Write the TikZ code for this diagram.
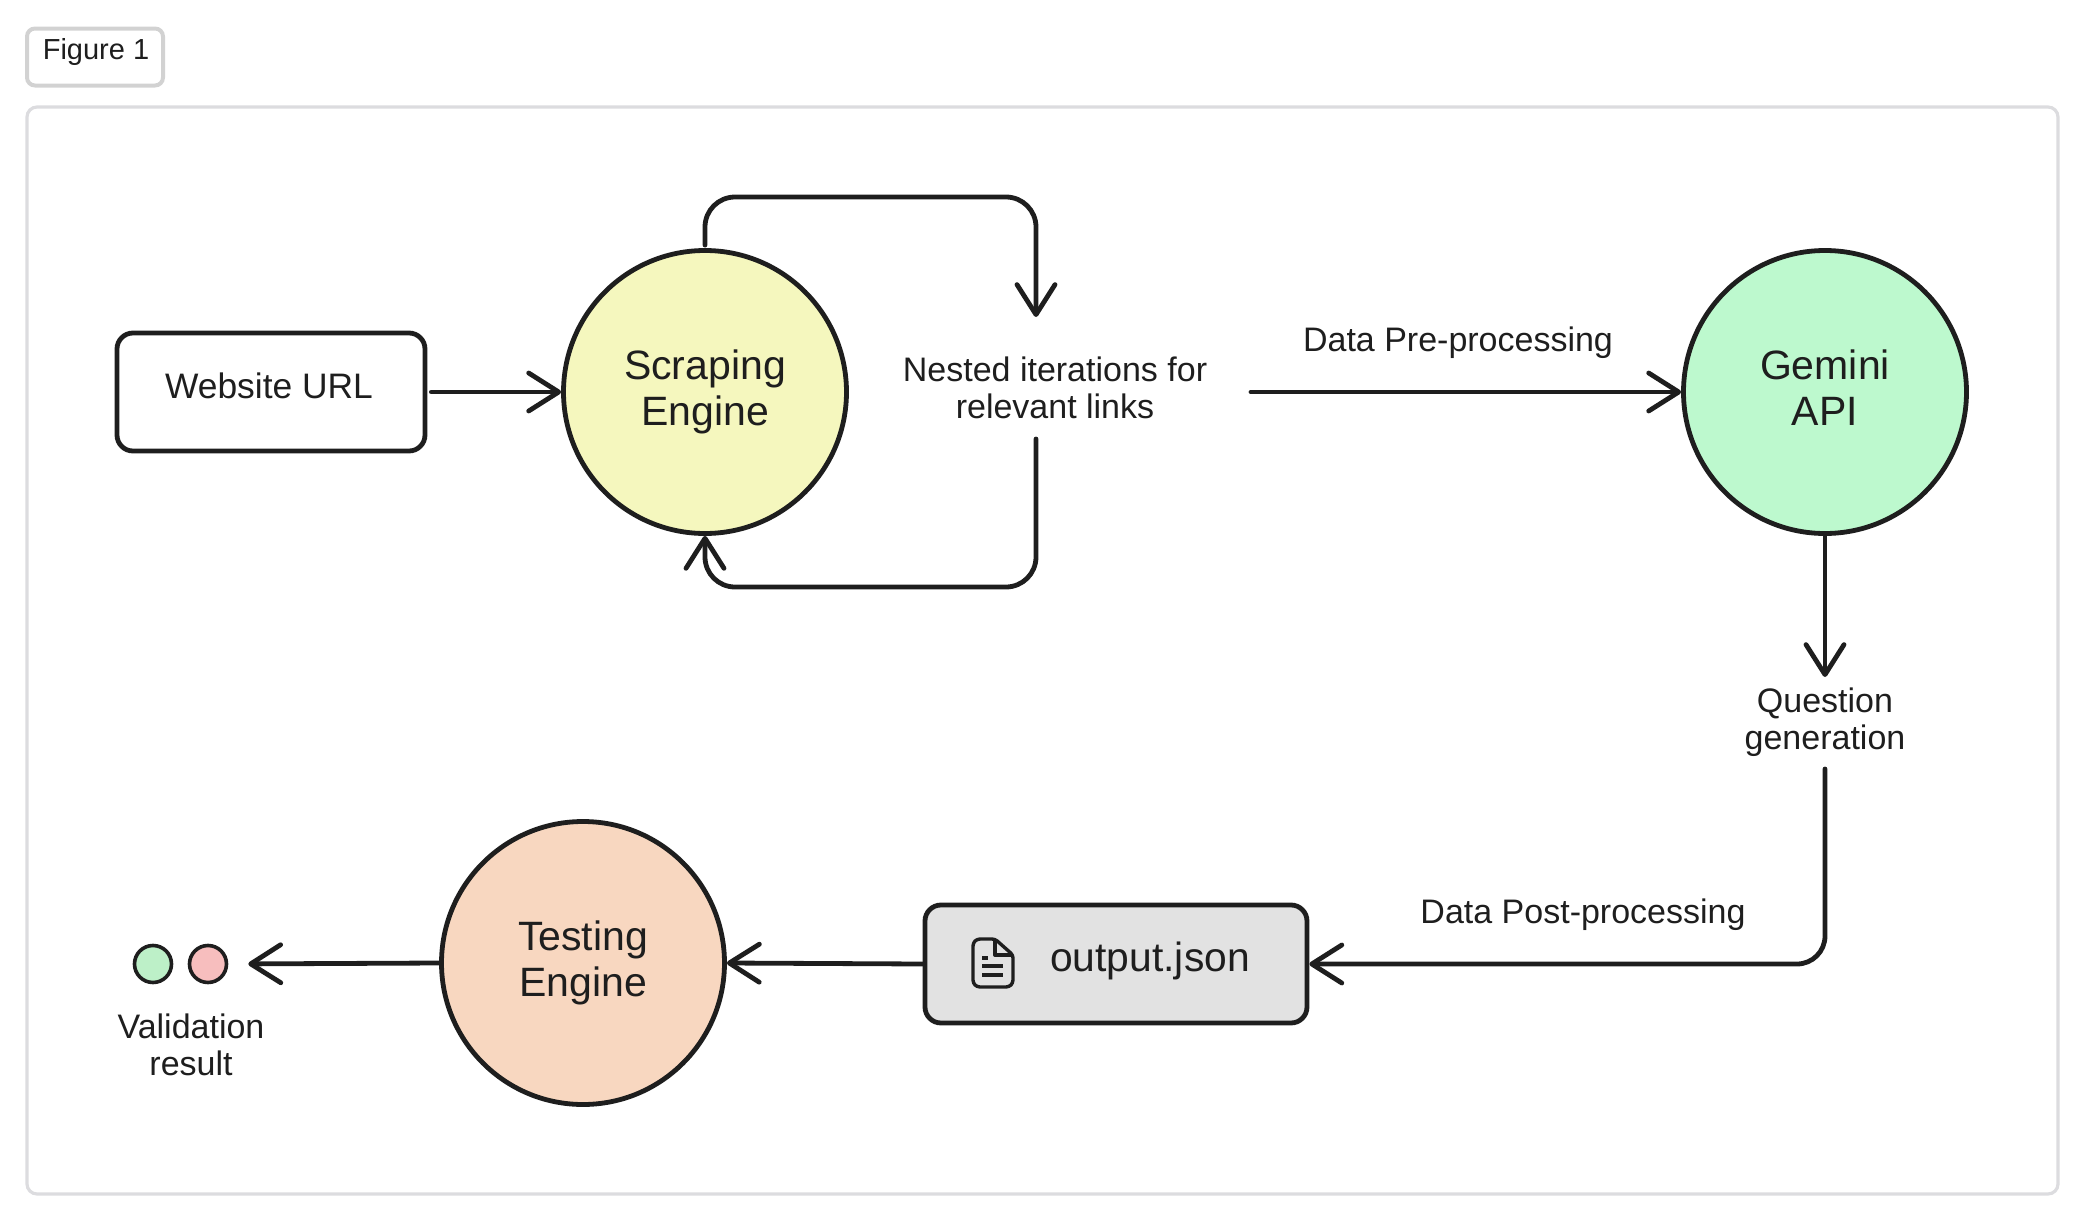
\documentclass[tikz,border=0pt]{standalone}
\usepackage{fontspec}
\usepackage{xcolor}
\setmainfont{Liberation Sans}
\usetikzlibrary{arrows.meta,positioning}
\definecolor{inkc}{HTML}{1E1E1E}
\definecolor{scrapec}{HTML}{F5F7BE}
\definecolor{geminic}{HTML}{BDF9CE}
\definecolor{testc}{HTML}{F8D7C0}
\definecolor{jsonc}{HTML}{E2E2E2}
\definecolor{okc}{HTML}{BDF0C8}
\definecolor{badc}{HTML}{F7BEBE}
\definecolor{panelc}{HTML}{DCDCDF}
\definecolor{tabc}{HTML}{D2D2D2}
\tikzset{
	ball/.style={circle, draw=inkc, line width=2.4pt, minimum size=141.5pt, inner sep=0pt, align=center, font=\fontsize{20.5}{22.7}\selectfont, text=inkc},
	card/.style={rectangle, draw=inkc, line width=2.4pt, rounded corners=8pt},
	tag/.style={inner sep=0pt, outer sep=0pt, align=center, font=\fontsize{17}{18.7}\selectfont, text=inkc},
	flow/.style={draw=inkc, line width=2.4pt, line cap=round, -{Straight Barb[length=15pt, width=19pt, line width=2.4pt, round]}},
}
\begin{document}
\begin{tikzpicture}[x=0.5pt, y=-0.5pt]
	\useasboundingbox (0,0) rectangle (2090,1226);
	% outer frame and tab
	\draw[panelc, line width=1.6pt, rounded corners=5pt] (27,107) rectangle (2058,1194);
	\node[rectangle, draw=tabc, line width=2pt, rounded corners=4pt, minimum width=68pt, minimum height=28.5pt] (figtab) at (95,57) {};
	\node[tag, font=\fontsize{14.5}{16}\selectfont] (figname) at (96,52) {Figure 1};
	% nodes
	\node[card, minimum width=154pt, minimum height=59pt] (website) at (271,392) {};
	\node[tag, font=\fontsize{17.7}{20}\selectfont] (webname) at (269,386) {Website URL};
	\node[ball, fill=scrapec] (scraping) at (705,392) {Scraping\\Engine};
	\node[ball, fill=geminic] (gemini) at (1825,392) {Gemini\\API\vphantom{g}};
	\node[ball, fill=testc] (testing) at (583,963) {Testing\\Engine};
	\node[tag, minimum width=196pt, minimum height=51pt] (nested) at (1055,388) {Nested iterations for\\relevant links};
	\node[tag, minimum height=45pt] (question) at (1825,722) {Question\\generation};
	\node[tag] (prelabel) at (1458,343) {Data Pre-processing};
	\node[tag] (postlabel) at (1583,915) {Data Post-processing};
	\node[card, fill=jsonc, minimum width=191pt, minimum height=59pt] (outjson) at (1116,964) {};
	\node[tag, font=\fontsize{20.4}{22}\selectfont] (outname) at (1150,961) {output.json};
	\node[circle, draw=inkc, line width=1.8pt, fill=okc, minimum size=18.5pt, inner sep=0pt] (dotok) at (153,964) {};
	\node[circle, draw=inkc, line width=1.8pt, fill=badc, minimum size=18.5pt, inner sep=0pt] (dotbad) at (208,964) {};
	\node[tag] (validation) at (191,1045) {Validation\\result};
	% file icon
	\draw[inkc, line width=1.7pt, line join=round, rounded corners=1.5pt] (995,939) -- (977,939) -- (973,943) -- (973,983) -- (977,987) -- (1009,987) -- (1013,983) -- (1013,955) -- cycle;
	\draw[inkc, line width=1.7pt, line join=round] (995,939) -- (995,955) -- (1013,955);
	\foreach \y/\xa/\xb in {958/982/988, 966/982/1003, 975/982/1003} {
		\draw[inkc, line width=1.7pt] (\xa,\y) -- (\xb,\y);
	}
	% connectors
	\coordinate (looptop) at (1036,197);
	\coordinate (loopbot) at (1036,587);
	\draw[flow, shorten <=2pt] (website.east |- scraping.west) -- (scraping.west);
	\draw[flow, rounded corners=15pt, shorten >=10pt, shorten <=1.5pt] (scraping.north) |- (looptop) -- (nested.north -| looptop);
	\draw[flow, rounded corners=15pt] (nested.south -| loopbot) -- (loopbot) -| (scraping.south);
	\draw[flow] (nested.east |- gemini.west) -- (gemini.west);
	\draw[flow] (gemini.south) -- (question.north);
	\draw[flow, rounded corners=14pt, shorten <=1pt] (question.south) |- (outjson.east);
	\draw[flow] (outjson.west) -- (testing.east);
	\draw[flow, shorten >=10pt] (testing.west) -- (dotbad.east);
\end{tikzpicture}
\end{document}
